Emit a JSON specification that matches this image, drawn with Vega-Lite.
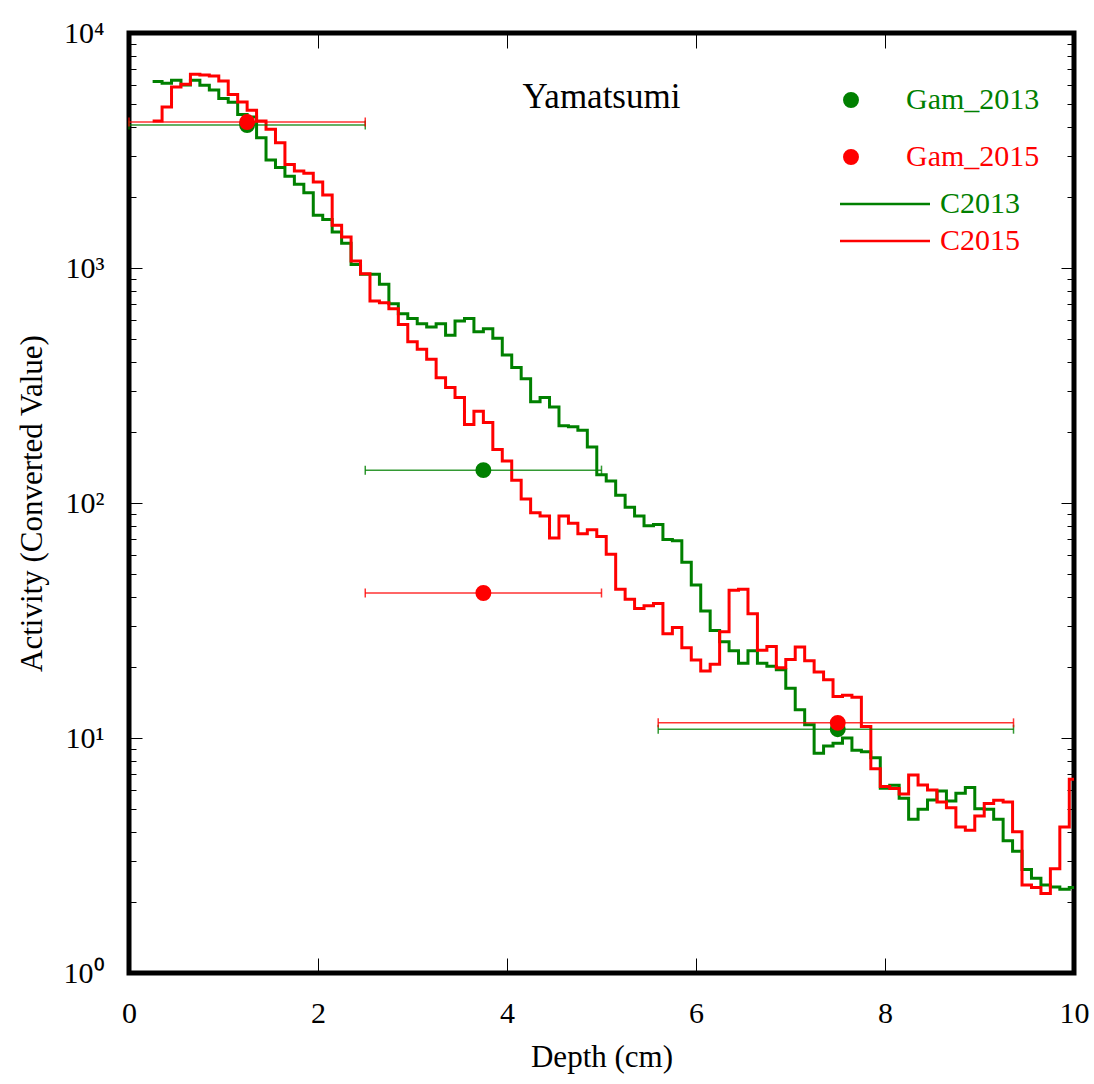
{
  "$schema": "https://vega.github.io/schema/vega-lite/v6.json",
  "width": 945,
  "height": 940,
  "autosize": "none",
  "padding": {"left": 129, "top": 33, "right": 20, "bottom": 111},
  "title": {"text": "Yamatsumi", "fontSize": 35, "fontWeight": "normal", "color": "black", "anchor": "middle", "frame": "group", "offset": -125, "baseline": "alphabetic"},
  "datasets": {
    "curves": [
      {"s":"C2013","d":0.25,"v":6210},{"s":"C2013","d":0.35,"v":6110},{"s":"C2013","d":0.45,"v":6290},{"s":"C2013","d":0.55,"v":6010},{"s":"C2013","d":0.65,"v":6290},{"s":"C2013","d":0.75,"v":5990},{"s":"C2013","d":0.85,"v":5715},{"s":"C2013","d":0.95,"v":5270},{"s":"C2013","d":1.05,"v":5070},{"s":"C2013","d":1.15,"v":4505},
      {"s":"C2013","d":1.25,"v":4395},{"s":"C2013","d":1.35,"v":3585},{"s":"C2013","d":1.45,"v":2880},{"s":"C2013","d":1.55,"v":2675},{"s":"C2013","d":1.65,"v":2460},{"s":"C2013","d":1.75,"v":2270},{"s":"C2013","d":1.85,"v":2090},{"s":"C2013","d":1.95,"v":1675},{"s":"C2013","d":2.05,"v":1610},{"s":"C2013","d":2.15,"v":1423},
      {"s":"C2013","d":2.25,"v":1275},{"s":"C2013","d":2.35,"v":1035},{"s":"C2013","d":2.45,"v":940},{"s":"C2013","d":2.55,"v":940},{"s":"C2013","d":2.65,"v":853},{"s":"C2013","d":2.75,"v":705},{"s":"C2013","d":2.85,"v":639},{"s":"C2013","d":2.95,"v":609},{"s":"C2013","d":3.05,"v":579},{"s":"C2013","d":3.15,"v":561},
      {"s":"C2013","d":3.25,"v":579},{"s":"C2013","d":3.35,"v":517},{"s":"C2013","d":3.45,"v":595},{"s":"C2013","d":3.55,"v":609},{"s":"C2013","d":3.65,"v":536},{"s":"C2013","d":3.75,"v":552},{"s":"C2013","d":3.85,"v":502},{"s":"C2013","d":3.95,"v":426},{"s":"C2013","d":4.05,"v":377},{"s":"C2013","d":4.15,"v":338},
      {"s":"C2013","d":4.25,"v":270},{"s":"C2013","d":4.35,"v":281},{"s":"C2013","d":4.45,"v":256},{"s":"C2013","d":4.55,"v":213},{"s":"C2013","d":4.65,"v":211},{"s":"C2013","d":4.75,"v":204},{"s":"C2013","d":4.85,"v":173},{"s":"C2013","d":4.95,"v":132},{"s":"C2013","d":5.05,"v":124},{"s":"C2013","d":5.15,"v":108},
      {"s":"C2013","d":5.25,"v":96},{"s":"C2013","d":5.35,"v":88},{"s":"C2013","d":5.45,"v":80},{"s":"C2013","d":5.55,"v":81},{"s":"C2013","d":5.65,"v":70},{"s":"C2013","d":5.75,"v":69},{"s":"C2013","d":5.85,"v":56},{"s":"C2013","d":5.95,"v":44.8},{"s":"C2013","d":6.05,"v":34.7},{"s":"C2013","d":6.15,"v":28.7},
      {"s":"C2013","d":6.25,"v":25.7},{"s":"C2013","d":6.35,"v":23.5},{"s":"C2013","d":6.45,"v":20.8},{"s":"C2013","d":6.55,"v":23.5},{"s":"C2013","d":6.65,"v":20.8},{"s":"C2013","d":6.75,"v":20.2},{"s":"C2013","d":6.85,"v":19.5},{"s":"C2013","d":6.95,"v":16.3},{"s":"C2013","d":7.05,"v":13.2},{"s":"C2013","d":7.15,"v":11.4},
      {"s":"C2013","d":7.25,"v":8.61},{"s":"C2013","d":7.35,"v":9.25},{"s":"C2013","d":7.45,"v":9.5},{"s":"C2013","d":7.55,"v":10.0},{"s":"C2013","d":7.65,"v":8.87},{"s":"C2013","d":7.75,"v":8.74},{"s":"C2013","d":7.85,"v":8.25},{"s":"C2013","d":7.95,"v":6.11},{"s":"C2013","d":8.05,"v":6.29},{"s":"C2013","d":8.15,"v":5.54},
      {"s":"C2013","d":8.25,"v":4.51},{"s":"C2013","d":8.35,"v":4.97},{"s":"C2013","d":8.45,"v":5.45},{"s":"C2013","d":8.55,"v":5.95},{"s":"C2013","d":8.65,"v":5.4},{"s":"C2013","d":8.75,"v":5.82},{"s":"C2013","d":8.85,"v":6.15},{"s":"C2013","d":8.95,"v":5.0},{"s":"C2013","d":9.05,"v":4.97},{"s":"C2013","d":9.15,"v":4.51},
      {"s":"C2013","d":9.25,"v":3.65},{"s":"C2013","d":9.35,"v":3.3},{"s":"C2013","d":9.45,"v":2.76},{"s":"C2013","d":9.55,"v":2.53},{"s":"C2013","d":9.65,"v":2.37},{"s":"C2013","d":9.75,"v":2.32},{"s":"C2013","d":9.85,"v":2.27},{"s":"C2013","d":9.95,"v":2.31},{"s":"C2013","d":10.05,"v":2.31},
      {"s":"C2015","d":0.25,"v":4225},{"s":"C2015","d":0.35,"v":4845},{"s":"C2015","d":0.45,"v":5890},{"s":"C2015","d":0.55,"v":6050},{"s":"C2015","d":0.65,"v":6670},{"s":"C2015","d":0.75,"v":6625},{"s":"C2015","d":0.85,"v":6560},{"s":"C2015","d":0.95,"v":6250},{"s":"C2015","d":1.05,"v":5480},{"s":"C2015","d":1.15,"v":5080},
      {"s":"C2015","d":1.25,"v":4690},{"s":"C2015","d":1.35,"v":4225},{"s":"C2015","d":1.45,"v":3895},{"s":"C2015","d":1.55,"v":3415},{"s":"C2015","d":1.65,"v":2760},{"s":"C2015","d":1.75,"v":2585},{"s":"C2015","d":1.85,"v":2530},{"s":"C2015","d":1.95,"v":2320},{"s":"C2015","d":2.05,"v":2045},{"s":"C2015","d":2.15,"v":1520},
      {"s":"C2015","d":2.25,"v":1356},{"s":"C2015","d":2.35,"v":1072},{"s":"C2015","d":2.45,"v":945},{"s":"C2015","d":2.55,"v":724},{"s":"C2015","d":2.65,"v":712},{"s":"C2015","d":2.75,"v":671},{"s":"C2015","d":2.85,"v":575},{"s":"C2015","d":2.95,"v":486},{"s":"C2015","d":3.05,"v":451},{"s":"C2015","d":3.15,"v":409},
      {"s":"C2015","d":3.25,"v":341},{"s":"C2015","d":3.35,"v":310},{"s":"C2015","d":3.45,"v":281},{"s":"C2015","d":3.55,"v":216},{"s":"C2015","d":3.65,"v":246},{"s":"C2015","d":3.75,"v":220},{"s":"C2015","d":3.85,"v":169},{"s":"C2015","d":3.95,"v":151},{"s":"C2015","d":4.05,"v":125},{"s":"C2015","d":4.15,"v":104},
      {"s":"C2015","d":4.25,"v":91},{"s":"C2015","d":4.35,"v":88},{"s":"C2015","d":4.45,"v":71},{"s":"C2015","d":4.55,"v":88},{"s":"C2015","d":4.65,"v":82},{"s":"C2015","d":4.75,"v":74},{"s":"C2015","d":4.85,"v":77},{"s":"C2015","d":4.95,"v":72},{"s":"C2015","d":5.05,"v":60.5},{"s":"C2015","d":5.15,"v":43},
      {"s":"C2015","d":5.25,"v":38.9},{"s":"C2015","d":5.35,"v":35.6},{"s":"C2015","d":5.45,"v":36.5},{"s":"C2015","d":5.55,"v":37.4},{"s":"C2015","d":5.65,"v":27.8},{"s":"C2015","d":5.75,"v":29.5},{"s":"C2015","d":5.85,"v":24.2},{"s":"C2015","d":5.95,"v":21.5},{"s":"C2015","d":6.05,"v":19.3},{"s":"C2015","d":6.15,"v":20.6},
      {"s":"C2015","d":6.25,"v":28.3},{"s":"C2015","d":6.35,"v":42.5},{"s":"C2015","d":6.45,"v":43},{"s":"C2015","d":6.55,"v":33.8},{"s":"C2015","d":6.65,"v":23.6},{"s":"C2015","d":6.75,"v":24.5},{"s":"C2015","d":6.85,"v":19.9},{"s":"C2015","d":6.95,"v":21.6},{"s":"C2015","d":7.05,"v":24.4},{"s":"C2015","d":7.15,"v":21.3},
      {"s":"C2015","d":7.25,"v":19.1},{"s":"C2015","d":7.35,"v":17.7},{"s":"C2015","d":7.45,"v":15.0},{"s":"C2015","d":7.55,"v":15.2},{"s":"C2015","d":7.65,"v":14.9},{"s":"C2015","d":7.75,"v":11.2},{"s":"C2015","d":7.85,"v":7.4},{"s":"C2015","d":7.95,"v":6.22},{"s":"C2015","d":8.05,"v":6.09},{"s":"C2015","d":8.15,"v":5.78},
      {"s":"C2015","d":8.25,"v":6.96},{"s":"C2015","d":8.35,"v":6.31},{"s":"C2015","d":8.45,"v":6.01},{"s":"C2015","d":8.55,"v":5.34},{"s":"C2015","d":8.65,"v":5.05},{"s":"C2015","d":8.75,"v":4.18},{"s":"C2015","d":8.85,"v":4.05},{"s":"C2015","d":8.95,"v":4.66},{"s":"C2015","d":9.05,"v":5.27},{"s":"C2015","d":9.15,"v":5.43},
      {"s":"C2015","d":9.25,"v":5.34},{"s":"C2015","d":9.35,"v":3.99},{"s":"C2015","d":9.45,"v":2.37},{"s":"C2015","d":9.55,"v":2.31},{"s":"C2015","d":9.65,"v":2.18},{"s":"C2015","d":9.75,"v":2.78},{"s":"C2015","d":9.85,"v":4.18},{"s":"C2015","d":9.95,"v":6.67},{"s":"C2015","d":10.05,"v":6.67}
    ],
    "gam": [
      {"s":"Gam_2013","d":1.25,"lo":0,"hi":2.5,"v":4060},
      {"s":"Gam_2013","d":3.75,"lo":2.5,"hi":5.0,"v":138},
      {"s":"Gam_2013","d":7.5,"lo":5.6,"hi":9.36,"v":10.9},
      {"s":"Gam_2015","d":1.25,"lo":0,"hi":2.5,"v":4180},
      {"s":"Gam_2015","d":3.75,"lo":2.5,"hi":5.0,"v":41.4},
      {"s":"Gam_2015","d":7.5,"lo":5.6,"hi":9.36,"v":11.6}
    ]
  },
  "layer": [
    {
      "data": {"name": "curves"},
      "mark": {"type": "line", "interpolate": "step-after", "strokeWidth": 3, "clip": true},
      "encoding": {
        "x": {"field": "d", "type": "quantitative", "scale": {"domain": [0, 10], "nice": false, "zero": false},
          "axis": {"orient": "bottom", "values": [0, 2, 4, 6, 8, 10], "format": "d", "title": "Depth (cm)", "tickSize": -15, "tickWidth": 1, "tickColor": "black", "labelFontSize": 30, "labelPadding": 40, "labelFlush": false, "titleFontSize": 31, "titlePadding": 14, "domain": false, "grid": false}},
        "y": {"field": "v", "type": "quantitative", "scale": {"type": "log", "domain": [1, 10000], "nice": false},
          "axis": {"orient": "left", "values": [1,2,3,4,5,6,7,8,9,10,20,30,40,50,60,70,80,90,100,200,300,400,500,600,700,800,900,1000,2000,3000,4000,5000,6000,7000,8000,9000,10000],
            "labelExpr": "datum.value == 1 ? '10⁰' : datum.value == 10 ? '10¹' : datum.value == 100 ? '10²' : datum.value == 1000 ? '10³' : datum.value == 10000 ? '10⁴' : ''",
            "tickSize": {"condition": {"test": "indexof([1,10,100,1000,10000], datum.value) >= 0", "value": -13}, "value": -7},
            "tickWidth": 1, "tickColor": "black", "labelFontSize": 30, "labelPadding": 38, "labelFlush": false, "labelOverlap": false, "labelBound": false,
            "title": "Activity (Converted Value)", "titleFontSize": 31, "titlePadding": 15, "domain": false, "grid": false}},
        "stroke": {"field": "s", "type": "nominal", "scale": {"domain": ["C2013", "C2015"], "range": ["#008000", "#ff0000"]},
          "legend": {"title": null, "orient": "none", "legendX": 741, "legendY": 156, "symbolType": "M-5,0H5", "symbolSize": 324, "symbolStrokeWidth": 2.5, "labelOffset": 40, "labelFontSize": 30, "labelFont": "Liberation Serif", "rowPadding": 7, "padding": 0,
            "encode": {"labels": {"update": {"fill": {"scale": "stroke", "field": "value"}}}}}}
      }
    },
    {
      "data": {"name": "gam"},
      "transform": [{"filter": "datum.s == 'Gam_2013'"}],
      "mark": {"type": "rule", "strokeWidth": 1.5, "opacity": 0.8, "color": "#008000"},
      "encoding": {
        "x": {"field": "lo", "type": "quantitative", "axis": null},
        "x2": {"field": "hi"},
        "y": {"field": "v", "type": "quantitative", "axis": null}
      }
    },
    {
      "data": {"name": "gam"},
      "transform": [{"filter": "datum.s == 'Gam_2015'"}],
      "mark": {"type": "rule", "strokeWidth": 1.5, "opacity": 0.8, "color": "#ff0000"},
      "encoding": {
        "x": {"field": "lo", "type": "quantitative", "axis": null},
        "x2": {"field": "hi"},
        "y": {"field": "v", "type": "quantitative", "axis": null}
      }
    },
    {
      "data": {"name": "gam"},
      "transform": [{"filter": "datum.s == 'Gam_2013'"}, {"fold": ["lo", "hi"], "as": ["end", "xe"]}],
      "mark": {"type": "tick", "orient": "vertical", "size": 9, "thickness": 1.5, "opacity": 0.8, "color": "#008000"},
      "encoding": {
        "x": {"field": "xe", "type": "quantitative", "axis": null},
        "y": {"field": "v", "type": "quantitative", "axis": null}
      }
    },
    {
      "data": {"name": "gam"},
      "transform": [{"filter": "datum.s == 'Gam_2015'"}, {"fold": ["lo", "hi"], "as": ["end", "xe"]}],
      "mark": {"type": "tick", "orient": "vertical", "size": 9, "thickness": 1.5, "opacity": 0.8, "color": "#ff0000"},
      "encoding": {
        "x": {"field": "xe", "type": "quantitative", "axis": null},
        "y": {"field": "v", "type": "quantitative", "axis": null}
      }
    },
    {
      "data": {"name": "gam"},
      "mark": {"type": "circle", "size": 254, "opacity": 1},
      "encoding": {
        "x": {"field": "d", "type": "quantitative",
          "axis": {"orient": "top", "values": [2, 4, 6, 8], "labels": false, "title": null, "tickSize": -15, "tickWidth": 1, "tickColor": "black", "domain": false, "grid": false}},
        "y": {"field": "v", "type": "quantitative",
          "axis": {"orient": "right", "values": [1,2,3,4,5,6,7,8,9,10,20,30,40,50,60,70,80,90,100,200,300,400,500,600,700,800,900,1000,2000,3000,4000,5000,6000,7000,8000,9000,10000],
            "labels": false, "title": null,
            "tickSize": {"condition": {"test": "indexof([1,10,100,1000,10000], datum.value) >= 0", "value": -13}, "value": -7},
            "tickWidth": 1, "tickColor": "black", "domain": false, "grid": false}},
        "color": {"field": "s", "type": "nominal", "scale": {"domain": ["Gam_2013", "Gam_2015"], "range": ["#008000", "#ff0000"]},
          "legend": {"title": null, "orient": "none", "legendX": 707, "legendY": 52, "symbolType": "circle", "symbolSize": 254, "symbolStrokeWidth": 0, "labelOffset": 40, "labelFontSize": 30, "labelFont": "Liberation Serif", "rowPadding": 27, "padding": 0,
            "labelColor": {"expr": "datum.value == 'Gam_2013' ? '#008000' : '#ff0000'"}}}
      }
    }
  ],
  "resolve": {"axis": {"x": "independent", "y": "independent"}},
  "config": {
    "font": "Liberation Serif",
    "background": "white",
    "view": {"stroke": "black", "strokeWidth": 5},
    "axis": {"labelColor": "black", "titleColor": "black", "titleFontWeight": "normal"},
    "legend": {"labelFont": "Liberation Serif"}
  }
}
